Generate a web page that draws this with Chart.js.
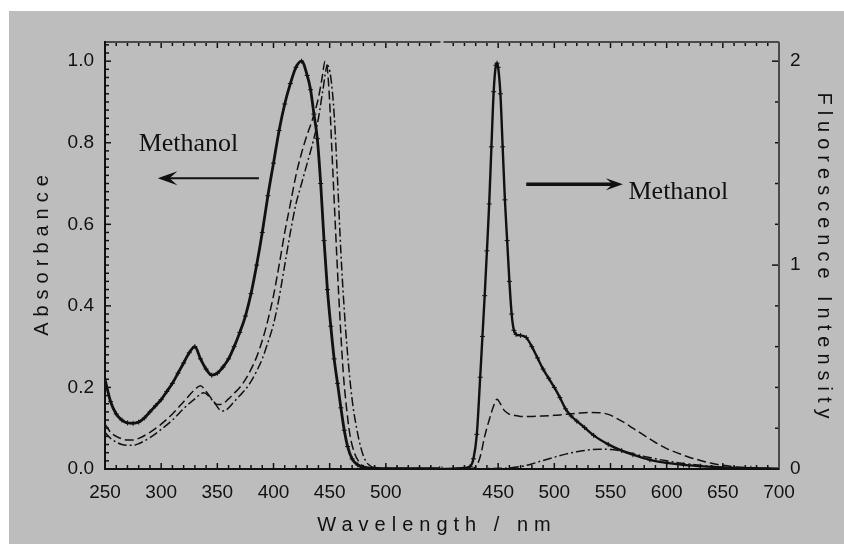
<!DOCTYPE html>
<html>
<head>
<meta charset="utf-8">
<script src="https://cdn.jsdelivr.net/npm/chart.js@4/dist/chart.umd.min.js"></script>
<style>
    html, body { margin: 0; padding: 0; background: #fff; }
    canvas { display: block; }
</style>
</head>
<body>
<canvas id="spectraChart" width="844" height="544"></canvas>
<script>
// emission part of the x axis sits to the right of the absorption part
const EMISSION_SHIFT = 150;

// tick labels
const absAxisTicks = [250, 300, 350, 400, 450, 500];
const emAxisTicks = [450, 500, 550, 600, 650, 700];
const absorbanceTicks = [0, 0.2, 0.4, 0.6, 0.8, 1.0];
const fluorescenceTicks = [0, 1, 2];

// absorption spectra (left axis)
const absMethanolNm = [250,255,260,265,270,275,280,285,290,295,300,305,310,315,320,325,330,335,340,345,350,355,360,365,370,375,380,385,390,395,400,405,410,415,420,425,430,433,436,439,442,445,448,451,454,457,460,463,466,470,475,480,490,500,510,520,530,540,548];
const absMethanol = [0.22,0.165,0.135,0.12,0.113,0.112,0.115,0.125,0.14,0.155,0.17,0.19,0.21,0.235,0.26,0.285,0.30,0.27,0.245,0.23,0.235,0.25,0.27,0.3,0.335,0.375,0.43,0.5,0.58,0.67,0.75,0.83,0.895,0.945,0.985,1.0,0.965,0.93,0.87,0.81,0.7,0.56,0.44,0.35,0.27,0.21,0.15,0.095,0.055,0.025,0.01,0.004,0.002,0.001,0.001,0.001,0.001,0.001,0.001];

const absDashNm = [250,255,260,265,270,275,280,290,300,310,320,330,335,340,345,350,355,360,365,370,376,385,390,395,400,405,410,415,420,425,430,435,440,443,446,448,450,452,455,458,462,465,468,472,476,480,490,500,510,520,530,540,548];
const absDash = [0.11,0.09,0.08,0.074,0.071,0.071,0.075,0.09,0.11,0.135,0.165,0.195,0.204,0.19,0.172,0.158,0.16,0.172,0.186,0.2,0.224,0.275,0.315,0.365,0.425,0.5,0.58,0.65,0.72,0.775,0.82,0.86,0.91,0.955,1.0,0.98,0.9,0.78,0.6,0.43,0.24,0.15,0.085,0.04,0.018,0.007,0.002,0.001,0.001,0.001,0.001,0.001,0.001];

const absDotNm = [250,255,260,265,270,275,280,290,300,310,320,330,338,342,348,354,358,365,370,375,380,385,390,395,400,405,410,415,420,425,430,435,440,444,448,451,454,457,460,463,466,470,474,478,482,486,490,500,510,520,530,540,548];
const absDot = [0.09,0.075,0.066,0.06,0.058,0.058,0.062,0.077,0.097,0.12,0.148,0.172,0.187,0.18,0.16,0.142,0.145,0.165,0.18,0.195,0.215,0.24,0.27,0.31,0.355,0.42,0.5,0.58,0.65,0.70,0.75,0.8,0.86,0.93,0.99,0.96,0.87,0.71,0.53,0.39,0.28,0.17,0.10,0.05,0.02,0.008,0.003,0.001,0.001,0.001,0.001,0.001,0.001];

// emission spectra (right axis)
const flMethanolNm = [400,410,420,425,428,431,434,436,438,440,442,444,446,448,449,450,452,454,456,458,460,462,464,466,470,475,480,485,490,495,500,505,510,515,520,527,535,548,560,570,585,600,615,630,650,675,700];
const flMethanol = [0,0.002,0.005,0.012,0.05,0.17,0.45,0.65,0.85,1.07,1.30,1.58,1.85,1.98,1.99,1.97,1.84,1.58,1.32,1.12,0.92,0.76,0.68,0.66,0.655,0.645,0.60,0.545,0.49,0.445,0.40,0.35,0.295,0.26,0.235,0.203,0.165,0.121,0.09,0.07,0.045,0.03,0.02,0.014,0.008,0.004,0.002];

const flDashNm = [400,425,430,434,438,442,446,449,452,455,459,465,470,480,490,500,510,520,530,540,548,555,563,570,580,590,600,610,620,630,640,650,660,675,690,700];
const flDash = [0,0.002,0.01,0.06,0.16,0.24,0.31,0.342,0.32,0.29,0.272,0.262,0.258,0.258,0.26,0.263,0.268,0.273,0.277,0.276,0.268,0.25,0.225,0.2,0.165,0.13,0.1,0.078,0.058,0.042,0.028,0.018,0.011,0.005,0.002,0.001];

const flDotNm = [400,440,460,470,480,490,500,510,520,530,540,550,560,570,580,590,600,610,622,635,650,665,680,700];
const flDot = [0,0.002,0.005,0.012,0.025,0.042,0.058,0.073,0.085,0.093,0.097,0.096,0.088,0.075,0.062,0.05,0.04,0.031,0.023,0.015,0.009,0.005,0.002,0.001];

const INK = '#111111';
const GRAY_BG = '#bdbdbd';
const SANS = '"Liberation Sans", Arial, sans-serif';
const SERIF = '"Liberation Serif", "Times New Roman", serif';

function toPoints(nm, values, shift) {
    return nm.map((w, i) => ({ x: w + shift, y: values[i] }));
}

function tickLabel(value) {
    if (value <= 500) return String(value);
    const w = value - EMISSION_SHIFT;
    return emAxisTicks.includes(w) ? String(w) : '';
}

const solidStyle = {
    borderColor: INK,
    borderWidth: 2.8,
    pointStyle: 'cross',
    pointRadius: 2.5,
    pointBorderWidth: 1,
    pointBorderColor: INK
};
const dashStyle = { borderColor: INK, borderWidth: 1.5, borderDash: [9, 4], pointRadius: 0 };
const dotStyle = { borderColor: INK, borderWidth: 1.5, borderDash: [9, 3, 2, 3], pointRadius: 0 };

// grey paper behind the figure
const paperPlugin = {
    id: 'paper',
    beforeDraw(chart) {
        const ctx = chart.ctx;
        ctx.save();
        ctx.fillStyle = '#ffffff';
        ctx.fillRect(0, 0, chart.width, chart.height);
        ctx.fillStyle = GRAY_BG;
        ctx.fillRect(9, 11, chart.width - 9, chart.height - 11);
        ctx.restore();
    }
};

// box frame with inward ticks on every side
const framePlugin = {
    id: 'frame',
    afterDatasetsDraw(chart) {
        const { ctx, chartArea: a, scales } = chart;
        const x = scales.x, y = scales.y, y2 = scales.y2;
        const seg = (x1, y1, x2, y2_) => { ctx.beginPath(); ctx.moveTo(x1, y1); ctx.lineTo(x2, y2_); ctx.stroke(); };
        ctx.save();
        ctx.strokeStyle = INK;
        ctx.lineWidth = 1.5;
        for (let v = 250; v <= 850; v += 10) {
            if (v === 550) continue;
            const px = x.getPixelForValue(v);
            const len = v % 50 === 0 ? 6 : 4;
            seg(px, a.bottom, px, a.bottom - len);
            seg(px, a.top, px, a.top + len);
        }
        for (let i = 0; i <= 52; i++) {
            const py = y.getPixelForValue(i * 0.02);
            seg(a.left, py, a.left + (i % 10 === 0 ? 6 : 4), py);
        }
        for (let i = 0; i <= 10; i++) {
            const py = y2.getPixelForValue(i * 0.2);
            seg(a.right, py, a.right - (i % 5 === 0 ? 7 : 4), py);
        }
        // axis lines
        ctx.lineWidth = 2;
        ctx.strokeStyle = '#4a4a4a';
        const gap = x.getPixelForValue(550);
        seg(a.left, a.top, gap - 1.5, a.top);
        seg(gap + 1.5, a.top, a.right, a.top);
        seg(a.right, a.top, a.right, a.bottom + 1);
        ctx.strokeStyle = INK;
        seg(a.left, a.top - 1, a.left, a.bottom + 1);
        seg(a.left, a.bottom, a.right, a.bottom);
        ctx.restore();
    }
};

function arrow(ctx, x1, yy, x2, width, head, half, filled) {
    const dir = Math.sign(x2 - x1);
    ctx.lineWidth = width;
    ctx.beginPath();
    ctx.moveTo(x1, yy);
    ctx.lineTo(x2 - dir * head * 0.5, yy);
    ctx.stroke();
    ctx.beginPath();
    ctx.moveTo(x2, yy);
    ctx.lineTo(x2 - dir * head, yy - half);
    ctx.lineTo(x2 - dir * head * 0.6, yy);
    ctx.lineTo(x2 - dir * head, yy + half);
    ctx.closePath();
    if (filled) ctx.fill(); else { ctx.lineWidth = 1.5; ctx.stroke(); ctx.fill(); }
}

// solvent notes, arrows and spaced-out axis titles
const notesPlugin = {
    id: 'notes',
    afterDraw(chart) {
        const { ctx, chartArea: a, scales } = chart;
        const x = scales.x, y = scales.y, y2 = scales.y2;
        ctx.save();
        ctx.fillStyle = INK;
        ctx.strokeStyle = INK;

        ctx.font = '26px ' + SERIF;
        ctx.textAlign = 'left';
        ctx.textBaseline = 'alphabetic';
        ctx.fillText('Methanol', x.getPixelForValue(280), y.getPixelForValue(0.779));
        ctx.fillText('Methanol', x.getPixelForValue(566 + EMISSION_SHIFT), y2.getPixelForValue(1.322));

        arrow(ctx, x.getPixelForValue(387), y.getPixelForValue(0.713), x.getPixelForValue(299), 2, 14, 5, false);
        arrow(ctx, x.getPixelForValue(475 + EMISSION_SHIFT), y2.getPixelForValue(1.396),
              x.getPixelForValue(561 + EMISSION_SHIFT), 3.5, 17, 6, true);

        ctx.font = '20px ' + SANS;
        ctx.letterSpacing = '6px';
        ctx.textAlign = 'center';
        ctx.textBaseline = 'middle';
        const midY = (a.top + a.bottom) / 2;

        ctx.fillText('Wavelength / nm', (a.left + a.right) / 2 - 5, a.bottom + 56);

        ctx.save();
        ctx.translate(a.left - 63, midY);
        ctx.rotate(-Math.PI / 2);
        ctx.fillText('Absorbance', 3, 0);
        ctx.restore();

        ctx.save();
        ctx.translate(a.right + 45, midY);
        ctx.rotate(Math.PI / 2);
        ctx.fillText('Fluorescence Intensity', 3, 0);
        ctx.restore();

        ctx.restore();
    }
};

const tickFont = { family: SANS, size: 19 };

new Chart(document.getElementById('spectraChart').getContext('2d'), {
    type: 'line',
    data: {
        datasets: [
            Object.assign({ label: 'Methanol (absorption)', yAxisID: 'y', data: toPoints(absMethanolNm, absMethanol, 0) }, solidStyle),
            Object.assign({ label: 'Solvent 2 (absorption)', yAxisID: 'y', data: toPoints(absDashNm, absDash, 0) }, dashStyle),
            Object.assign({ label: 'Solvent 3 (absorption)', yAxisID: 'y', data: toPoints(absDotNm, absDot, 0) }, dotStyle),
            Object.assign({ label: 'Methanol (emission)', yAxisID: 'y2', data: toPoints(flMethanolNm, flMethanol, EMISSION_SHIFT) }, solidStyle, { borderWidth: 2.4 }),
            Object.assign({ label: 'Solvent 2 (emission)', yAxisID: 'y2', data: toPoints(flDashNm, flDash, EMISSION_SHIFT) }, dashStyle),
            Object.assign({ label: 'Solvent 3 (emission)', yAxisID: 'y2', data: toPoints(flDotNm, flDot, EMISSION_SHIFT) }, dotStyle)
        ]
    },
    options: {
        responsive: false,
        animation: false,
        devicePixelRatio: 1,
        layout: { padding: { top: 42, left: 0, right: 0, bottom: 0 } },
        elements: {
            line: { cubicInterpolationMode: 'monotone', fill: false }
        },
        plugins: {
            legend: { display: false },
            tooltip: { enabled: false }
        },
        scales: {
            x: {
                type: 'linear',
                min: 250,
                max: 850,
                grid: { display: false, drawTicks: false },
                border: { display: false },
                afterFit: s => { s.height = 75; },
                afterBuildTicks: s => {
                    s.ticks = absAxisTicks.concat(emAxisTicks.map(w => w + EMISSION_SHIFT))
                        .map(v => ({ value: v }));
                },
                ticks: {
                    autoSkip: false,
                    maxRotation: 0,
                    padding: 12,
                    color: INK,
                    font: tickFont,
                    callback: v => tickLabel(v)
                }
            },
            y: {
                position: 'left',
                min: 0,
                max: 1.047,
                grid: { display: false, drawTicks: false },
                border: { display: false },
                afterFit: s => { s.width = 105; },
                afterBuildTicks: s => { s.ticks = absorbanceTicks.map(v => ({ value: v })); },
                ticks: { padding: 11, color: INK, font: tickFont, callback: v => v.toFixed(1) }
            },
            y2: {
                position: 'right',
                min: 0,
                max: 2.094,
                grid: { display: false, drawTicks: false },
                border: { display: false },
                afterFit: s => { s.width = 65; },
                afterBuildTicks: s => { s.ticks = fluorescenceTicks.map(v => ({ value: v })); },
                ticks: { padding: 11, color: INK, font: tickFont, callback: v => String(v) }
            }
        }
    },
    plugins: [paperPlugin, framePlugin, notesPlugin]
});
</script>
</body>
</html>
